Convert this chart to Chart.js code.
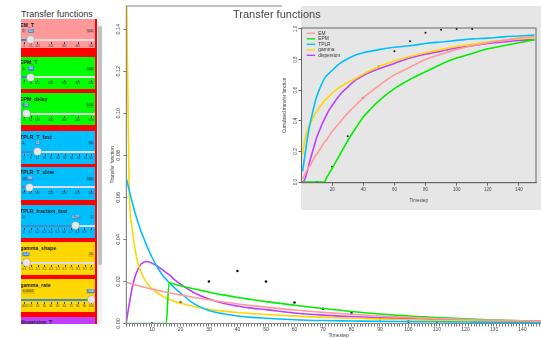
<!DOCTYPE html>
<html>
<head>
<meta charset="utf-8">
<title>Transfer functions</title>
<script src="https://cdn.jsdelivr.net/npm/chart.js@4/dist/chart.umd.min.js"></script>
<style>
html, body { margin: 0; padding: 0; background: #fff; }
body { width: 541px; height: 338px; overflow: hidden; position: relative; font-family: "Liberation Sans", Arial, sans-serif; }
#main { position: absolute; left: 100px; top: 0; }
#inset { position: absolute; left: 282px; top: 0; }
#plot-title { position: absolute; left: 233px; top: 8.7px; font-size: 11px; line-height: 11px; color: #444; white-space: nowrap; }
#side-title { position: absolute; left: 21px; top: 9.7px; font-size: 9px; line-height: 9px; color: #333; white-space: nowrap; }
#side { position: absolute; left: 21px; top: 19px; width: 76px; height: 304.5px; background: #ff0000; overflow: hidden; }
#scroll { position: absolute; left: 97px; top: 19px; width: 5px; height: 304.5px; background: #f1f1f1; }
#thumb { position: absolute; left: 0.5px; top: 7px; width: 4px; height: 239px; background: #c1c1c1; border-radius: 2px; }
.panel { position: absolute; left: 0; width: 74px; overflow: hidden; }
.panel div { position: absolute; white-space: nowrap; }
.lab { left: -1px; top: 2.5px; font-size: 5.2px; font-weight: bold; color: #222; line-height: 6px; }
.edge { top: 10px; font-size: 3.6px; line-height: 4.4px; padding: 0 1px; background: rgba(0,0,0,0.1); color: #333; border-radius: 1px; }
.val { top: 9.5px; font-size: 3.6px; line-height: 4.6px; padding: 0 1px; background: #428bca; color: #fff; border-radius: 1px; transform: translateX(-50%); }
.track { left: 0; width: 74px; top: 19.5px; height: 2px; background: #fff; box-shadow: inset 0 0 0 0.4px #bbb; }
.bar { left: 0; top: 19.5px; height: 2px; background: #428bca; }
.handle { top: 17px; width: 7px; height: 7px; margin-left: -3.5px; border-radius: 50%; background: #e6e6e6; box-shadow: 0 0 0 0.6px #aaa; }
.tick { top: 23px; width: 0.5px; height: 2.2px; background: #444; }
.glab { top: 25.6px; font-size: 3px; line-height: 3.5px; color: #333; transform: translateX(-50%); }
</style>
</head>
<body>
<div id="side-title">Transfer functions</div>
<div id="side"></div>
<div id="scroll"><div id="thumb"></div></div>
<canvas id="main" width="470" height="345"></canvas>
<canvas id="inset" width="259" height="210"></canvas>
<div id="plot-title">Transfer functions</div>
<script>
// timesteps the curves were read at
const timesteps = [1, 2, 3, 4, 5, 6, 7, 8, 9, 10, 12, 14, 15, 16, 18, 20, 25, 30, 35, 40, 45, 50, 60, 70, 80, 90, 100, 110, 120, 130, 140, 150];

// transfer function per timestep (big plot)
const emTransfer = [0.0196, 0.0192, 0.0188, 0.0185, 0.0181, 0.0177, 0.0174, 0.0170, 0.0167, 0.0164, 0.0158, 0.0152, 0.0149, 0.0146, 0.0141, 0.0136, 0.0124, 0.0113, 0.0102, 0.0093, 0.0085, 0.0078, 0.0064, 0.0053, 0.0044, 0.0036, 0.0029, 0.0024, 0.0019, 0.0016, 0.0013, 0.0010];
const epmTransfer = [0, 0, 0, 0, 0, 0, 0, 0, 0, 0, 0, 0, 0, 0.0193, 0.0187, 0.0180, 0.0164, 0.0149, 0.0136, 0.0124, 0.0114, 0.0104, 0.0087, 0.0071, 0.0057, 0.0045, 0.0036, 0.0028, 0.0022, 0.0017, 0.0013, 0.0010];
const tplrTransfer = [0.069, 0.0635, 0.058, 0.053, 0.0485, 0.0445, 0.041, 0.0375, 0.0345, 0.0315, 0.0265, 0.0225, 0.021, 0.0195, 0.0168, 0.0145, 0.0092, 0.0062, 0.0046, 0.0036, 0.0029, 0.0025, 0.0018, 0.0014, 0.0012, 0.0010, 0.0009, 0.0008, 0.0007, 0.0006, 0.0006, 0.0005];
const gammaTransfer = [0.17, 0.064, 0.046, 0.036, 0.029, 0.025, 0.022, 0.0197, 0.018, 0.0166, 0.0145, 0.0128, 0.0121, 0.0115, 0.0105, 0.0096, 0.0080, 0.0068, 0.0059, 0.0052, 0.0047, 0.0043, 0.0035, 0.0029, 0.0025, 0.0021, 0.0018, 0.0015, 0.0013, 0.0011, 0.0010, 0.0009];
const dispersionTransfer = [0.0005, 0.009, 0.0165, 0.022, 0.0255, 0.028, 0.029, 0.0295, 0.0293, 0.0287, 0.0272, 0.0252, 0.0242, 0.0232, 0.0208, 0.0187, 0.0145, 0.0116, 0.0096, 0.0083, 0.0073, 0.0066, 0.0050, 0.0040, 0.0033, 0.0027, 0.0023, 0.0019, 0.0016, 0.0014, 0.0012, 0.0010];

// cumulated transfer function (inset)
const emCumul = [0.02, 0.04, 0.06, 0.08, 0.10, 0.11, 0.13, 0.15, 0.17, 0.18, 0.21, 0.245, 0.26, 0.27, 0.30, 0.33, 0.39, 0.45, 0.50, 0.55, 0.59, 0.63, 0.70, 0.75, 0.80, 0.835, 0.865, 0.89, 0.91, 0.925, 0.94, 0.95];
const epmCumul = [0, 0, 0, 0, 0, 0, 0, 0, 0, 0, 0, 0, 0, 0.02, 0.055, 0.09, 0.18, 0.27, 0.35, 0.425, 0.48, 0.53, 0.61, 0.67, 0.72, 0.77, 0.81, 0.84, 0.87, 0.89, 0.91, 0.93];
const tplrCumul = [0.07, 0.14, 0.21, 0.28, 0.34, 0.39, 0.435, 0.48, 0.52, 0.555, 0.61, 0.655, 0.675, 0.69, 0.71, 0.73, 0.775, 0.805, 0.83, 0.845, 0.855, 0.865, 0.88, 0.89, 0.905, 0.915, 0.925, 0.935, 0.94, 0.948, 0.954, 0.96];
const gammaCumul = [0.18, 0.25, 0.30, 0.335, 0.365, 0.385, 0.405, 0.425, 0.445, 0.46, 0.49, 0.515, 0.53, 0.54, 0.56, 0.58, 0.62, 0.65, 0.675, 0.705, 0.73, 0.755, 0.79, 0.82, 0.845, 0.865, 0.885, 0.90, 0.915, 0.925, 0.935, 0.945];
const dispersionCumul = [0, 0.01, 0.035, 0.07, 0.11, 0.15, 0.185, 0.22, 0.255, 0.29, 0.34, 0.39, 0.41, 0.43, 0.47, 0.50, 0.57, 0.62, 0.665, 0.695, 0.72, 0.74, 0.775, 0.81, 0.835, 0.855, 0.875, 0.89, 0.905, 0.915, 0.925, 0.93];

// observations (black dots)
const obsTimesteps = [10, 20, 30, 40, 50, 60, 70, 80, 90, 100, 110];
const obsTransfer = [0, 0.010, 0.020, 0.025, 0.020, 0.010, 0.007, 0.005, 0.002, 0.001, 0];
const obsCumul = [0, 0.10, 0.30, 0.55, 0.755, 0.855, 0.92, 0.975, 0.995, 1.0, 1.0];

const modelNames = ["EM", "EPM", "TPLR", "gamma", "dispersion"];
const modelColors = ["#ff9999", "#00ee00", "#00bfff", "#ffd700", "#bf3eff"];
const transferSeries = [emTransfer, epmTransfer, tplrTransfer, gammaTransfer, dispersionTransfer];
const cumulSeries = [emCumul, epmCumul, tplrCumul, gammaCumul, dispersionCumul];

const mainYTicks = [0, 0.02, 0.04, 0.06, 0.08, 0.10, 0.12, 0.14];
const insetXTicks = [20, 40, 60, 80, 100, 120, 140];
const insetYTicks = [0, 0.2, 0.4, 0.6, 0.8, 1.0];

// sidebar sliders
const sliders = [
    { name: "EM_T", top: 0, h: 29.3, bg: "#ff9999", min: 1, max: 500, value: 50, grid: [1, 51, 101, 201, 301, 401, 500] },
    { name: "EPM_T", top: 37.7, h: 32.6, bg: "#00ff00", min: 1, max: 500, value: 50, grid: [1, 51, 101, 201, 301, 401, 500] },
    { name: "EPM_delay", top: 74.3, h: 31.7, bg: "#00ff00", min: 0, max: 500, value: 15, grid: [0, 50, 100, 200, 300, 400, 500] },
    { name: "TPLR_T_fast", top: 112, h: 32.5, bg: "#00bfff", min: 1, max: 50, value: 11, grid: [1, 6, 11, 16, 21, 26, 31, 36, 41, 46, 50] },
    { name: "TPLR_T_slow", top: 147.6, h: 33.4, bg: "#00bfff", min: 50, max: 500, value: 90, grid: [50, 95, 140, 230, 320, 410, 500] },
    { name: "TPLR_fraction_fast", top: 186, h: 32.7, bg: "#00bfff", min: 0, max: 1, value: 0.77, grid: [0, 0.1, 0.2, 0.3, 0.4, 0.5, 0.6, 0.7, 0.8, 0.9, 1] },
    { name: "gamma_shape", top: 223.3, h: 32.7, bg: "#ffd700", min: 0.1, max: 10, value: 0.4, grid: [0.1, 1.1, 2.1, 3.1, 4.1, 5.1, 6.1, 7.1, 8.1, 9.1, 10] },
    { name: "gamma_rate", top: 260.3, h: 32.4, bg: "#ffd700", min: 0.0001, max: 100, value: 100, grid: [0.0001, 10, 20, 30, 40, 50, 60, 70, 80, 90, 100] },
    { name: "dispersion_T", top: 297.7, h: 7, bg: "#bf3eff" }
]

function add(parent, cls, text, css) {
    let d = document.createElement("div")
    d.className = cls
    if (text != null) {
        d.textContent = text
    }
    Object.assign(d.style, css || {})
    parent.appendChild(d)
    return d
}

function build_sidebar() {
    let side = document.getElementById("side")
    for (let s of sliders) {
        let p = add(side, "panel", null, { top: s.top + "px", height: s.h + "px", background: s.bg })
        add(p, "lab", s.name)
        if (s.min == undefined) {
            continue
        }
        // track runs from x=3 to x=70 inside the panel
        let px = v => 3 + (v - s.min) / (s.max - s.min) * 67
        let hx = px(s.value)
        add(p, "edge", String(s.min), { left: "0.5px" })
        add(p, "edge", String(s.max), { right: "1px" })
        add(p, "track")
        add(p, "bar", null, { width: hx + "px" })
        for (let g of s.grid) {
            add(p, "tick", null, { left: px(g) + "px" })
            add(p, "glab", String(g), { left: px(g) + "px" })
        }
        add(p, "handle", null, { left: hx + "px" })
        add(p, "val", String(s.value), { left: hx + "px" })
    }
}
build_sidebar()

Chart.defaults.font.family = '"Liberation Sans", Arial, sans-serif'
Chart.defaults.color = "#444"

function pts(xs, ys) {
    return xs.map((x, i) => ({ x: x, y: ys[i] }))
}

function curve_datasets(series) {
    return modelNames.map((name, i) => ({
        label: name,
        data: pts(timesteps, series[i]),
        borderColor: modelColors[i],
        borderWidth: 1.6,
        pointRadius: 0,
        cubicInterpolationMode: "monotone",
        fill: false
    }))
}

// R-style box round the plot region
const boxPlugin = {
    id: "box",
    afterDraw(chart, args, opts) {
        let a = chart.chartArea
        let ctx = chart.ctx
        ctx.save()
        ctx.strokeStyle = opts.color
        ctx.lineWidth = 1
        ctx.strokeRect(a.left, a.top, a.right - a.left, a.bottom - a.top)
        ctx.restore()
    }
}

// grey panel behind the inset, leaving a white strip for its y labels
const insetBackground = {
    id: "insetBackground",
    beforeDraw(chart) {
        let ctx = chart.ctx
        ctx.save()
        ctx.fillStyle = "#fff"
        ctx.fillRect(0, 0, chart.width, chart.height)
        ctx.fillStyle = "#e6e6e6"
        ctx.fillRect(19, 6, chart.width - 19, chart.height - 6)
        ctx.restore()
    }
}

// small line legend in the top left corner of the inset
const insetLegend = {
    id: "insetLegend",
    afterDraw(chart) {
        let ctx = chart.ctx
        ctx.save()
        ctx.font = '4.8px "Liberation Sans", Arial, sans-serif'
        ctx.textBaseline = "middle"
        chart.data.datasets.forEach((ds, i) => {
            if (i >= modelNames.length) {
                return
            }
            let y = 33.3 + i * 5.5
            ctx.strokeStyle = ds.borderColor
            ctx.lineWidth = 1.4
            ctx.beginPath()
            ctx.moveTo(24.7, y)
            ctx.lineTo(33, y)
            ctx.stroke()
            ctx.fillStyle = "#333"
            ctx.fillText(ds.label, 36.3, y)
        })
        ctx.restore()
    }
}

new Chart(document.getElementById("main"), {
    type: "line",
    data: {
        datasets: [
            ...curve_datasets(transferSeries),
            { label: "observed", data: pts(obsTimesteps, obsTransfer), showLine: false,
              pointRadius: 1.3, pointBackgroundColor: "#111", pointBorderWidth: 0 }
        ]
    },
    options: {
        responsive: false,
        animation: false,
        layout: { padding: { top: 6, right: 19, left: 0, bottom: 0 } },
        plugins: { legend: { display: false }, tooltip: { enabled: false }, box: { color: "#888" } },
        scales: {
            x: {
                type: "linear", min: 1, max: 150,
                afterFit: s => { s.height = 21.5 },
                grid: { drawOnChartArea: false, tickLength: 3, color: "#777" },
                border: { color: "#888" },
                ticks: { stepSize: 1, autoSkip: false, maxRotation: 0, padding: 0.5,
                         font: { size: 5 }, color: "#444",
                         callback: v => (v % 10 === 0 ? String(v) : "") },
                title: { display: true, text: "Timestep", font: { size: 5 }, color: "#444",
                         padding: { top: 6, bottom: 6 } }
            },
            y: {
                min: 0, max: 0.151,
                afterFit: s => { s.width = 26.3 },
                afterBuildTicks: s => { s.ticks = mainYTicks.map(v => ({ value: v })) },
                grid: { drawOnChartArea: false, tickLength: 3, color: "#777" },
                border: { color: "#888" },
                ticks: { minRotation: 90, maxRotation: 90, crossAlign: "center", padding: -0.5,
                         font: { size: 5.5 }, color: "#444",
                         callback: v => v.toFixed(2) },
                title: { display: true, text: "Transfer function", font: { size: 5 }, color: "#444",
                         padding: { top: 10, bottom: 0 } }
            }
        }
    },
    plugins: [boxPlugin]
})

new Chart(document.getElementById("inset"), {
    type: "line",
    data: {
        datasets: [
            ...curve_datasets(cumulSeries),
            { label: "observed", data: pts(obsTimesteps, obsCumul), showLine: false,
              pointRadius: 1, pointBackgroundColor: "#111", pointBorderWidth: 0 }
        ]
    },
    options: {
        responsive: false,
        animation: false,
        layout: { padding: { top: 28, right: 5, left: 0, bottom: 0 } },
        plugins: { legend: { display: false }, tooltip: { enabled: false }, box: { color: "#666" } },
        scales: {
            x: {
                type: "linear", min: 0.3, max: 151,
                afterFit: s => { s.height = 27.3 },
                afterBuildTicks: s => { s.ticks = insetXTicks.map(v => ({ value: v })) },
                grid: { drawOnChartArea: false, tickLength: 3, color: "#666" },
                border: { color: "#666" },
                ticks: { maxRotation: 0, padding: 1, font: { size: 4.5 }, color: "#444" },
                title: { display: true, text: "Timestep", font: { size: 4.5 }, color: "#444",
                         padding: { top: 6.3, bottom: 6.3 } }
            },
            y: {
                min: -0.004, max: 1.006,
                afterFit: s => { s.width = 19.5 },
                afterBuildTicks: s => { s.ticks = insetYTicks.map(v => ({ value: v })) },
                grid: { drawOnChartArea: false, tickLength: 3, color: "#666" },
                border: { color: "#666" },
                ticks: { autoSkip: false, minRotation: 90, maxRotation: 90, crossAlign: "center", padding: 0,
                         font: { size: 4.6 }, color: "#333",
                         callback: v => v.toFixed(1) },
                title: { display: true, text: "Cumulated transfer function", font: { size: 4.5 }, color: "#444",
                         padding: { top: 0, bottom: 0 } }
            }
        }
    },
    plugins: [insetBackground, boxPlugin, insetLegend]
})
</script>
</body>
</html>
